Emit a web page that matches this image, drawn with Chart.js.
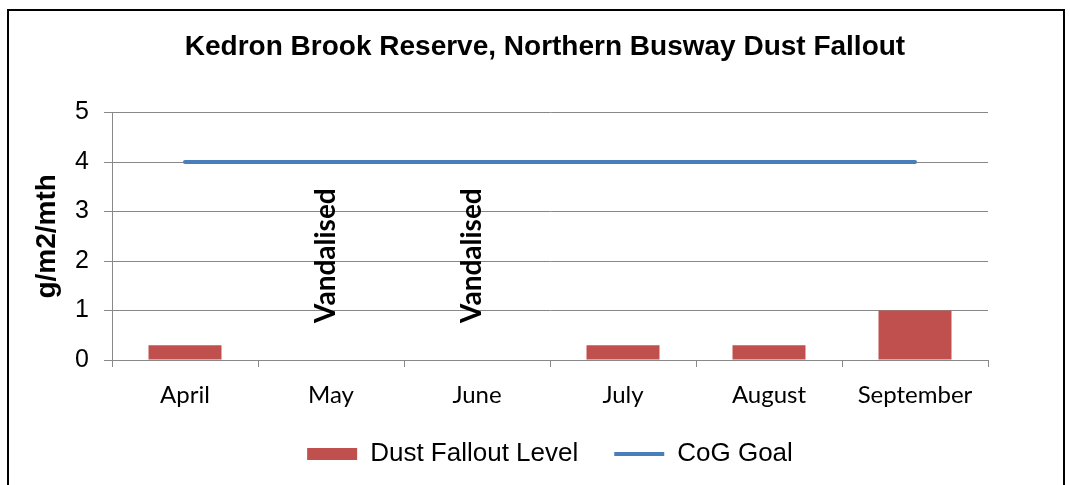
<!DOCTYPE html>
<html>
<head>
<meta charset="utf-8">
<script src="https://cdn.jsdelivr.net/npm/chart.js@4/dist/chart.umd.min.js"></script>
<style>
  html, body { margin: 0; padding: 0; background: #fff; }
  #wrap { position: relative; width: 1070px; height: 485px; overflow: hidden; }
  #frame { position: absolute; left: 7px; top: 9px; width: 1054px; height: 500px; border: 2px solid #000; }
  canvas { position: absolute; left: 0; top: 0; }
</style>
</head>
<body>
<div id="wrap">
  <div id="frame"></div>
  <canvas id="chart" width="1070" height="485"></canvas>
</div>
<script>
// Dados
const months = ['April', 'May', 'June', 'July', 'August', 'September']
const dustLevel = [0.3, 0, 0, 0.3, 0.3, 1.0]
const cogGoal = [4, 4, 4, 4, 4, 4]
const notes = ['', 'Vandalised', 'Vandalised', '', '', '']
const yTicks = [0, 1, 2, 3, 4, 5]

// Rótulos "Vandalised" verticais
const notesPlugin = {
  id: 'notes',
  afterDatasetsDraw(chart) {
    const { ctx, scales } = chart
    ctx.save()
    ctx.fillStyle = '#000'
    ctx.font = 'bold 28px Lato'
    ctx.textBaseline = 'middle'
    ctx.textAlign = 'left'
    notes.forEach((txt, i) => {
      if (!txt) return
      const x = scales.x.getPixelForValue(i) - 5
      const y = scales.y.getPixelForValue(0.75)
      ctx.save()
      ctx.translate(x, y)
      ctx.rotate(-Math.PI / 2)
      ctx.fillText(txt, 0, 0)
      ctx.restore()
    })
    ctx.restore()
  }
}

// Centralizar título e legenda sob o gráfico inteiro
const blockShift = {
  id: 'blockShift',
  afterLayout(chart) {
    if (chart.legend) {
      chart.legend.left += 56
      chart.legend.right += 56
      chart.legend.top -= 8
      chart.legend.bottom -= 8
    }
    if (chart.titleBlock) {
      chart.titleBlock.left += 51
      chart.titleBlock.right += 51
    }
  }
}

new Chart(document.getElementById('chart'), {
  type: 'bar',
  data: {
    labels: months,
    datasets: [
      {
        type: 'bar',
        label: 'Dust Fallout Level',
        data: dustLevel,
        backgroundColor: '#C0504D',
        borderWidth: 0,
        barPercentage: 0.5,
        categoryPercentage: 1,
        pointStyle: 'rect',
        order: 2
      },
      {
        type: 'line',
        label: 'CoG Goal',
        data: cogGoal,
        borderColor: '#4A7EBB',
        backgroundColor: '#4A7EBB',
        borderWidth: 4,
        pointRadius: 0,
        pointStyle: 'line',
        borderCapStyle: 'round',
        order: 1
      }
    ]
  },
  options: {
    responsive: false,
    animation: false,
    layout: { padding: { left: 0, right: 82, top: 0, bottom: 0 } },
    plugins: {
      title: {
        display: true,
        text: 'Kedron Brook Reserve, Northern Busway Dust Fallout',
        color: '#000',
        font: { family: 'Liberation Sans', size: 28, weight: 'bold' },
        padding: { top: 30, bottom: 49 }
      },
      legend: {
        position: 'bottom',
        labels: {
          usePointStyle: true,
          pointStyleWidth: 50,
          boxHeight: 12,
          color: '#000',
          padding: 36,
          sort: (a, b) => a.datasetIndex - b.datasetIndex,
          font: { family: 'Liberation Sans', size: 26 }
        }
      },
      tooltip: { enabled: false }
    },
    scales: {
      x: {
        afterFit: (scale) => { scale.height = 53 },
        grid: {
          display: true,
          drawOnChartArea: false,
          drawTicks: true,
          tickLength: 7,
          color: '#888'
        },
        border: { color: '#888' },
        ticks: {
          color: '#000',
          padding: 14,
          font: { family: 'Lato', size: 24 }
        }
      },
      y: {
        min: 0,
        max: 5,
        afterFit: (scale) => { scale.width = 112 },
        afterBuildTicks: (scale) => { scale.ticks = yTicks.map(v => ({ value: v })) },
        grid: { color: '#888', tickLength: 8 },
        border: { color: '#888' },
        ticks: {
          color: '#000',
          padding: 15,
          font: { family: 'Liberation Sans', size: 25 }
        },
        title: {
          display: true,
          text: 'g/m2/mth',
          color: '#000',
          font: { family: 'Liberation Sans', size: 28, weight: 'bold' },
          padding: { top: 30, bottom: 0 }
        }
      }
    }
  },
  plugins: [notesPlugin, blockShift]
})
</script>
</body>
</html>
